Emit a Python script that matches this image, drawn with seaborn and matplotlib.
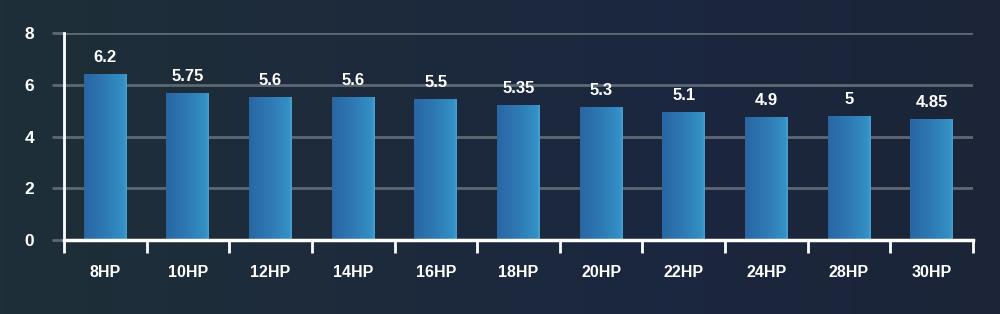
import numpy as np
import pandas as pd
import matplotlib
matplotlib.use("Agg")
import matplotlib.pyplot as plt
import seaborn as sns
from matplotlib.colors import LinearSegmentedColormap

categories = ["8HP", "10HP", "12HP", "14HP", "16HP", "18HP", "20HP", "22HP", "24HP", "28HP", "30HP"]
bar_heights = [6.41, 5.69, 5.52, 5.52, 5.44, 5.21, 5.13, 4.94, 4.74, 4.79, 4.67]
value_labels = ["6.2", "5.75", "5.6", "5.6", "5.5", "5.35", "5.3", "5.1", "4.9", "5", "4.85"]
y_ticks = [0, 2, 4, 6, 8]

sns.set_theme(style="dark")
plt.rcParams['font.family'] = ['Liberation Sans', 'DejaVu Sans']

df = pd.DataFrame({"cat": categories, "val": bar_heights})

fig = plt.figure(figsize=(10, 3.14), dpi=100)

# background gradient
bg = fig.add_axes([0, 0, 1, 1], zorder=-10)
bg_cmap = LinearSegmentedColormap.from_list("bg", ["#1e2f38", "#1d2b3b", "#1b2740", "#1b2537"])
grad = np.linspace(0, 1, 256).reshape(1, -1)
bg.imshow(grad, aspect="auto", cmap=bg_cmap, extent=[0, 1, 0, 1])
bg.axis("off")

ax = fig.add_axes([0.064, 0.2357, 0.909, 0.659])
ax.set_facecolor("none")
sns.barplot(data=df, x="cat", y="val", ax=ax, width=0.52, color="#2f7fb8", saturation=1, zorder=3)

bar_cmap = LinearSegmentedColormap.from_list(
    "bar", [(0, "#2966a4"), (0.5, "#2e7ab4"), (0.93, "#3490c6"), (1.0, "#47a2d2")])
for p in ax.patches:
    x0, y0 = p.get_x(), p.get_y()
    w, h = p.get_width(), p.get_height()
    p.set_facecolor("none")
    p.set_edgecolor("none")
    im = ax.imshow(np.linspace(0, 1, 128).reshape(1, -1), cmap=bar_cmap, aspect="auto",
                   extent=[x0, x0 + w, y0, y0 + h], zorder=3)
    im.set_clip_path(p)

for i, (h, lab) in enumerate(zip(bar_heights, value_labels)):
    ax.annotate(lab, (i, h), xytext=(0, 12), textcoords="offset points",
                ha="center", va="center", color="white", fontsize=12, fontweight="bold", zorder=5)

ax.set_xlim(-0.5, len(categories) - 0.5)
ax.set_ylim(0, 8)
ax.set_yticks(y_ticks)
ax.set_yticklabels([str(t) for t in y_ticks])
ax.grid(axis="y", color="#5e6875", linewidth=2, zorder=0)
ax.grid(axis="x", visible=False)
ax.set_axisbelow(True)

for s in ["top", "right"]:
    ax.spines[s].set_visible(False)
ax.spines["left"].set_color("white")
ax.spines["left"].set_linewidth(2)
ax.spines["bottom"].set_color("white")
ax.spines["bottom"].set_linewidth(2.5)
ax.spines["left"].set_zorder(6)
ax.spines["bottom"].set_zorder(6)

ax.tick_params(axis="y", which="major", length=8.6, width=2, color="#5e6875",
               labelcolor="white", labelsize=12.5, pad=13, left=True)
for t in ax.get_yticklabels():
    t.set_fontweight("bold")
ax.set_xticks(np.arange(-0.5, len(categories), 1), minor=True)
ax.tick_params(axis="x", which="minor", length=9, width=2, color="white", bottom=True, direction="out")
ax.tick_params(axis="x", which="major", length=0, labelcolor="white", labelsize=11.5, pad=18)
for t in ax.get_xticklabels():
    t.set_fontweight("bold")
ax.set_xlabel("")
ax.set_ylabel("")

fig.savefig("out.png", dpi=100, facecolor="#1c2a3a")
